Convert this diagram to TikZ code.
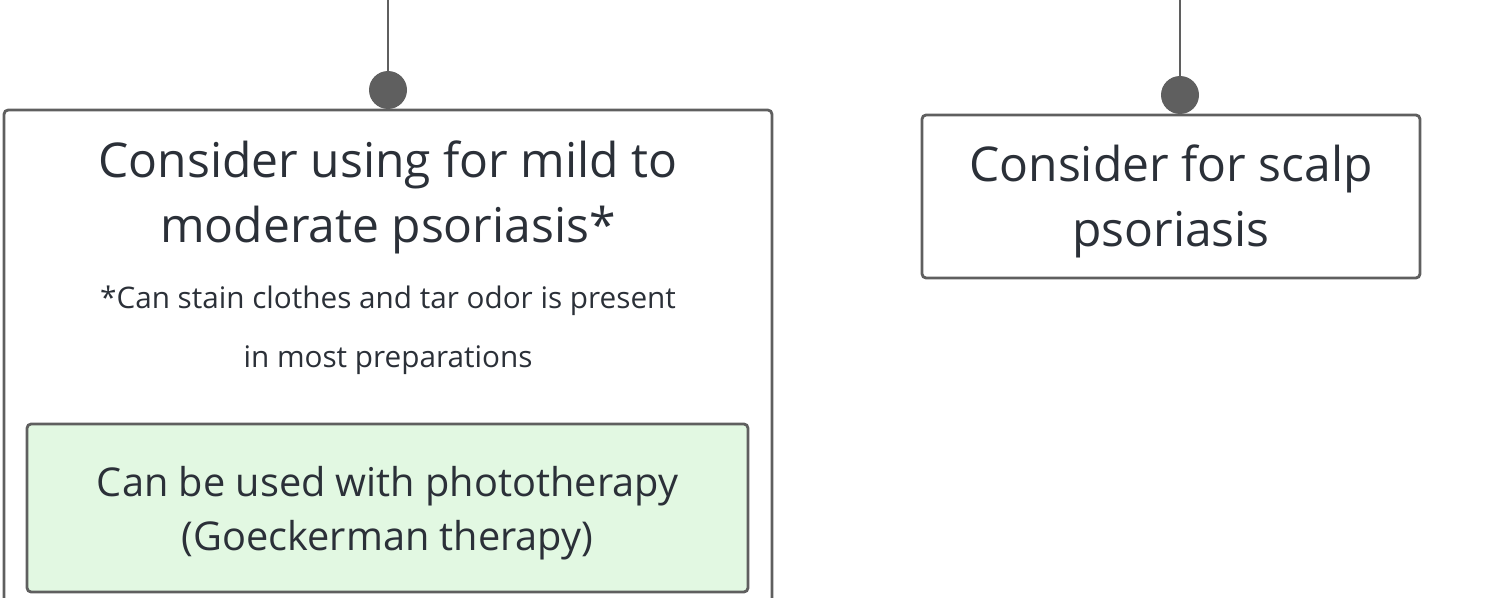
\documentclass[tikz,border=0pt]{standalone}
\usepackage{fontspec}
\setmainfont{Open Sans}
\definecolor{edgegray}{HTML}{5F5F5F}
\definecolor{inkgray}{HTML}{2B3038}
\definecolor{softgreen}{HTML}{E2F8E2}
\begin{document}
\begin{tikzpicture}[x=0.02cm, y=-0.02cm,
    box/.style={draw=edgegray, line width=1.6pt, rounded corners=0.08cm, inner sep=0pt},
    pin/.style={fill=edgegray, circle, inner sep=0pt, minimum size=0.76cm},
    wire/.style={draw=edgegray, line width=1.1pt},
    bigtxt/.style={text=inkgray, align=center, font=\fontsize{27.3}{37}\selectfont},
    smalltxt/.style={text=inkgray, align=center, font=\fontsize{16.9}{33.6}\selectfont},
    midtxt/.style={text=inkgray, align=center, font=\fontsize{22.6}{30.7}\selectfont}]
            \useasboundingbox (0, 0) rectangle (1507, 598);
            % left branch
            \node[box, minimum width=15.36cm, minimum height=10.6cm] (tarbox) at (388, 375) {};
            \node[box, fill=softgreen, minimum width=14.42cm, minimum height=3.36cm] (photobox) at (387.5, 508) {};
            \node[pin] (tarpin) at (388, 90) {};
            \coordinate (tartop) at (388, 0);
            \draw[wire] (tartop) -- (tarpin);
            \node[bigtxt] (tartitle) at (388, 197) {Consider using for mild to\\moderate psoriasis*};
            \node[smalltxt] (tarnote) at (388, 330) {*Can stain clothes and tar odor is present\\in most preparations};
            \node[midtxt] (phototxt) at (387.5, 513) {Can be used with phototherapy\\(Goeckerman therapy)};
            % right branch
            \node[box, minimum width=9.96cm, minimum height=3.26cm] (scalpbox) at (1171, 196.5) {};
            \node[pin] (scalppin) at (1180, 95) {};
            \coordinate (scalptop) at (1180, 0);
            \draw[wire] (scalptop) -- (scalppin);
            \node[bigtxt] (scalptxt) at (1171, 201.5) {Consider for scalp\\psoriasis};
        \end{tikzpicture}
\end{document}
